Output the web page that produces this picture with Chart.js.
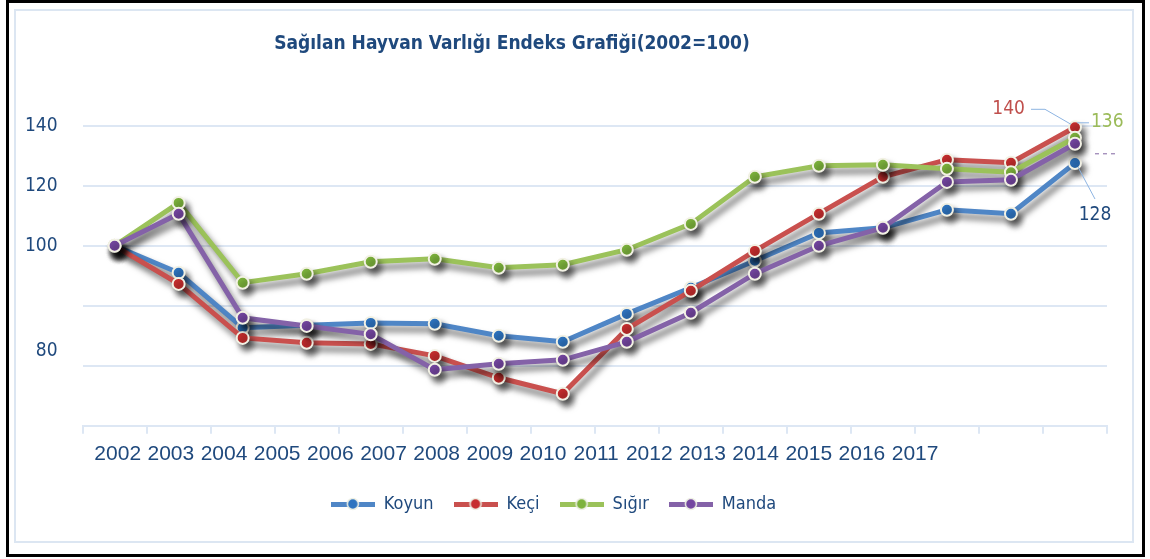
<!DOCTYPE html>
<html>
<head>
<meta charset="utf-8">
<script src="https://cdn.jsdelivr.net/npm/chart.js@4.4.0/dist/chart.umd.min.js"></script>
<style>
  body { margin: 0; background: #fff; }
  #wrap { position: relative; width: 1150px; height: 559px; }
  .frame { position: absolute; box-sizing: border-box; }
  #outer { left: 6px; top: 0; width: 1139px; height: 557px; border: 3px solid #000; }
  #inner { left: 14px; top: 9px; width: 1120px; height: 534px; border: 2px solid #dce6f2; }
  canvas { position: absolute; left: 0; top: 0; }
</style>
</head>
<body>
<div id="wrap">
  <div id="outer" class="frame"></div>
  <div id="inner" class="frame"></div>
  <canvas id="hayvan-grafik" width="1150" height="559"></canvas>
</div>
<script>
  // Sağılan hayvan varlığı endeksi (2002=100)
  const years = ["2002", "2003", "2004", "2005", "2006", "2007", "2008", "2009",
                 "2010", "2011", "2012", "2013", "2014", "2015", "2016", "2017"];
  const koyun = [100, 91, 72.7, 73.5, 74.3, 74, 70, 68, 77.3, 86, 95, 104.3, 106, 112, 110.7, 127.6];
  const keci  = [100, 87.3, 69.3, 67.7, 67.3, 63.3, 56, 50.7, 72.3, 85, 98.3, 110.7, 123, 128.7, 127.7, 139.5];
  const sigir = [100, 114.3, 87.7, 90.7, 94.7, 95.7, 92.7, 93.7, 98.7, 107.3, 123, 126.7, 127, 125.7, 124.5, 136];
  const manda = [100, 110.7, 76, 73.3, 70.5, 58.7, 60.7, 62, 68, 77.7, 90.7, 100, 106, 121.3, 122, 134];

  // y-Achse: Gitterlinien und (im Original verschobene) Beschriftungen
  const yGridValues = [40, 60, 80, 100, 120, 140];
  const yLabelValues = [140, 120, 100, 65];
  const yTickLabels = ["140", "120", "100", "80"];
  const xLabelMin = 2001.34;
  const xLabelMax = 2020.61;

  const textColor = "#1f497d";
  const gridColor = "#dde7f4";
  const narrow = "'Liberation Sans Narrow', 'DejaVu Sans Condensed', sans-serif";

  const series = [
    { label: "Koyun", data: koyun, line: "#4f86c6", dot: "#2e74c0", order: 3 },
    { label: "Keçi",  data: keci,  line: "#c9504e", dot: "#c62e2e", order: 2 },
    { label: "Sığır", data: sigir, line: "#9bc25a", dot: "#7db33c", order: 1 },
    { label: "Manda", data: manda, line: "#8462a8", dot: "#7446a0", order: 0 }
  ];

  // Legendensymbol: Linie mit Punkt
  function legendIcon(lineColor, dotColor) {
    const c = document.createElement("canvas");
    c.width = 44; c.height = 14;
    const g = c.getContext("2d");
    g.fillStyle = lineColor;
    g.fillRect(0, 5, 44, 5);
    g.beginPath();
    g.arc(22, 7, 5.5, 0, Math.PI * 2);
    g.fillStyle = dotColor;
    g.fill();
    g.lineWidth = 1.5;
    g.strokeStyle = "#eef0e4";
    g.stroke();
    return c;
  }
  const icons = series.map(s => legendIcon(s.line, s.dot));

  const dataHayvan = {
    labels: years,
    datasets: series.map(s => ({
      label: s.label,
      data: s.data,
      borderColor: s.line,
      backgroundColor: s.dot,
      borderWidth: 5,
      pointRadius: 6,
      pointBorderWidth: 2,
      pointBorderColor: "#f2f1e4",
      pointBackgroundColor: s.dot,
      tension: 0,
      order: s.order,
      clip: 20
    }))
  };

  const dropShadow = {
    id: "dropShadow",
    beforeDatasetDraw(chart) {
      const ctx = chart.ctx;
      ctx.save();
      ctx.shadowColor = "rgba(0, 0, 0, 0.55)";
      ctx.shadowBlur = 6;
      ctx.shadowOffsetX = 4;
      ctx.shadowOffsetY = 6;
    },
    afterDatasetDraw(chart) {
      chart.ctx.restore();
    }
  };

  // Endwerte rechts (140, 136, 128)
  const endLabels = {
    id: "endLabels",
    afterDatasetsDraw(chart) {
      const ctx = chart.ctx;
      const last = years.length - 1;
      const pt = i => chart.getDatasetMeta(i).data[last];
      ctx.save();
      ctx.font = "19px " + narrow;
      ctx.textBaseline = "middle";
      ctx.strokeStyle = "#8db4e2";
      ctx.lineWidth = 1;

      let p = pt(1);
      ctx.beginPath();
      ctx.moveTo(p.x - 44, p.y - 18);
      ctx.lineTo(p.x - 30, p.y - 18);
      ctx.lineTo(p.x - 4, p.y - 3);
      ctx.stroke();
      ctx.fillStyle = "#c0504d";
      ctx.textAlign = "right";
      ctx.fillText(Math.round(keci[last]), p.x - 50, p.y - 18);

      p = pt(2);
      ctx.beginPath();
      ctx.moveTo(p.x + 2, p.y - 15);
      ctx.lineTo(p.x + 14, p.y - 15);
      ctx.stroke();
      ctx.fillStyle = "#9bbb59";
      ctx.textAlign = "left";
      ctx.fillText(Math.round(sigir[last]), p.x + 16, p.y - 16);

      p = pt(0);
      ctx.beginPath();
      ctx.moveTo(p.x + 3, p.y + 4);
      ctx.lineTo(p.x + 20, p.y + 36);
      ctx.stroke();
      ctx.fillStyle = textColor;
      ctx.textAlign = "center";
      ctx.fillText(Math.round(koyun[last]), p.x + 20, p.y + 52);

      p = pt(3);
      ctx.strokeStyle = "#8064a2";
      ctx.setLineDash([4, 4]);
      ctx.beginPath();
      ctx.moveTo(p.x + 20, p.y + 10);
      ctx.lineTo(p.x + 42, p.y + 10);
      ctx.stroke();
      ctx.restore();
    }
  };

  // Titel im Original links von der Mitte
  const titleShift = {
    id: "titleShift",
    afterLayout(chart) {
      chart.titleBlock.right -= 83;
    }
  };

  const optionsHayvan = {
    responsive: false,
    animation: false,
    layout: {
      padding: { left: 0, right: 43, top: 0, bottom: 36 }
    },
    scales: {
      y: {
        min: 40,
        max: 140,
        afterBuildTicks: function(scale) {
          const vals = Array.from(new Set(yGridValues.concat(yLabelValues))).sort((a, b) => a - b);
          scale.ticks = vals.map(v => ({ value: v }));
        },
        grid: {
          color: c => yGridValues.includes(c.tick.value) ? gridColor : "rgba(0,0,0,0)",
          lineWidth: 2,
          drawTicks: false
        },
        border: { display: false },
        ticks: {
          padding: 25,
          color: textColor,
          font: { family: narrow, size: 19 },
          callback: function(value) {
            const i = yLabelValues.indexOf(value);
            return i >= 0 ? yTickLabels[i] : "";
          }
        }
      },
      x: {
        type: "category",
        offset: true,
        weight: 0,
        grid: {
          offset: true,
          drawOnChartArea: false,
          color: gridColor,
          lineWidth: 2,
          tickLength: 8
        },
        border: { color: gridColor, width: 2 },
        ticks: { display: false }
      },
      x2: {
        type: "linear",
        position: "bottom",
        weight: 1,
        min: xLabelMin,
        max: xLabelMax,
        grid: { display: false, drawTicks: false },
        border: { display: false },
        ticks: {
          stepSize: 1,
          includeBounds: false,
          maxTicksLimit: 40,
          autoSkip: false,
          maxRotation: 0,
          padding: 8,
          color: textColor,
          font: { family: "'Liberation Sans', Arial, sans-serif", size: 21 },
          callback: function(value) {
            return (Number.isInteger(value) && value <= Number(years[years.length - 1])) ? String(value) : "";
          }
        }
      }
    },
    plugins: {
      title: {
        display: true,
        text: "Sağılan Hayvan Varlığı Endeks Grafiği(2002=100)",
        color: textColor,
        font: { family: narrow, size: 19, weight: "bold" },
        padding: { top: 33, bottom: 70 }
      },
      legend: {
        display: true,
        position: "bottom",
        labels: {
          usePointStyle: true,
          pointStyleWidth: 44,
          padding: 20,
          color: textColor,
          font: { family: narrow, size: 18 },
          sort: (a, b) => a.datasetIndex - b.datasetIndex,
          generateLabels: function(chart) {
            const items = Chart.defaults.plugins.legend.labels.generateLabels(chart);
            items.forEach(it => { it.pointStyle = icons[it.datasetIndex]; });
            return items;
          }
        }
      },
      tooltip: { enabled: false }
    }
  };

  const ctx = document.getElementById("hayvan-grafik").getContext("2d");
  new Chart(ctx, {
    type: "line",
    data: dataHayvan,
    options: optionsHayvan,
    plugins: [dropShadow, endLabels, titleShift]
  });
</script>
</body>
</html>
